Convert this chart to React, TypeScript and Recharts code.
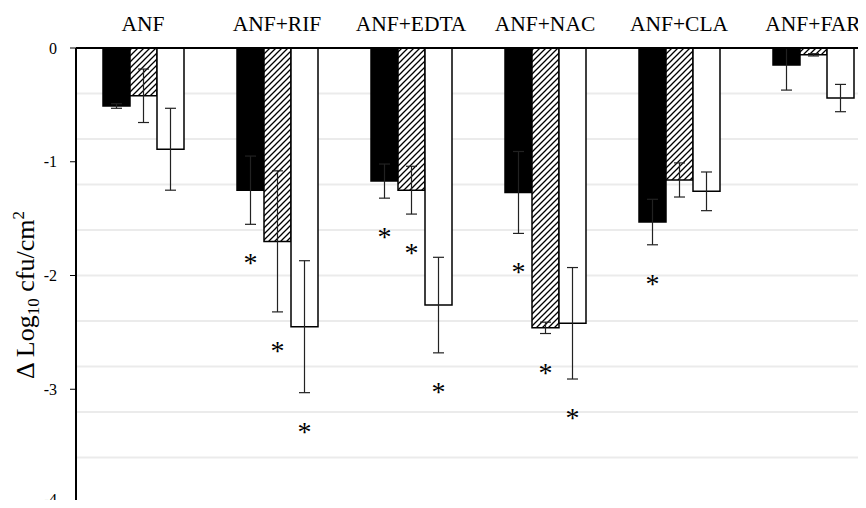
import React from 'react';
import { BarChart, Bar, XAxis, YAxis, CartesianGrid, ErrorBar, LabelList } from 'recharts';

const categories = ['ANF', 'ANF+RIF', 'ANF+EDTA', 'ANF+NAC', 'ANF+CLA', 'ANF+FAR'];
const solidValues = [-0.51, -1.25, -1.17, -1.27, -1.53, -0.15];
const solidErrors = [0.02, 0.3, 0.15, 0.36, 0.2, 0.22];
const hatchValues = [-0.42, -1.7, -1.25, -2.46, -1.16, -0.06];
const hatchErrors = [0.235, 0.62, 0.21, 0.05, 0.15, 0.01];
const openValues = [-0.89, -2.45, -2.26, -2.42, -1.26, -0.44];
const openErrors = [0.36, 0.58, 0.42, 0.49, 0.17, 0.12];
const solidSig = [false, true, true, true, true, false];
const hatchSig = [false, true, true, true, false, false];
const openSig = [false, true, true, true, false, false];
const yTicks = [0, -1, -2, -3, -4];
const gridValues = [-0.2, -0.4, -0.6, -0.8, -1, -1.2, -1.4, -1.6, -1.8, -2, -2.2, -2.4, -2.6, -2.8, -3, -3.2, -3.4, -3.6, -3.8, -4];

// error bars are clipped at the top of the plot (value 0), like the original
const clipErr = (v: number, e: number) => [e, Math.min(e, Math.abs(v))];

const data = categories.map((c, i) => ({
  name: c,
  solid: solidValues[i],
  solidErr: clipErr(solidValues[i], solidErrors[i]),
  hatch: hatchValues[i],
  hatchErr: clipErr(hatchValues[i], hatchErrors[i]),
  open: openValues[i],
  openErr: clipErr(openValues[i], openErrors[i]),
}));

const FONT = '"Liberation Serif", "Times New Roman", serif';

const makeStar = (values: number[], errors: number[], sig: boolean[]) => (props: any) => {
  const { index, x, y, width, height } = props;
  if (index == null || !sig[index]) return null;
  const v = values[index];
  const h = Math.abs(Number(height));
  const bottom = Math.max(Number(y), Number(y) + Number(height));
  const scale = h / Math.abs(v);
  const errEnd = bottom + errors[index] * scale;
  return (
    <text
      x={Number(x) + Number(width) / 2}
      y={errEnd + 48}
      textAnchor="middle"
      fontFamily={FONT}
      fontSize={28}
      fill="#000"
    >
      *
    </text>
  );
};

const YLabel = () => (
  <text
    x={34}
    y={295}
    transform="rotate(-90, 34, 295)"
    textAnchor="middle"
    fontFamily={FONT}
    fontSize={26}
    fill="#000"
  >
    <tspan>{'Δ  Log'}</tspan>
    <tspan fontSize={17} dy={5}>10</tspan>
    <tspan dy={-5}>{' cfu/cm'}</tspan>
    <tspan fontSize={17} dy={-10}>2</tspan>
  </text>
);

export default function App() {
  return (
    <div style={{ margin: -8, width: 866, height: 508, overflow: 'hidden', background: '#fff' }}>
      <BarChart
        width={900}
        height={508}
        data={data}
        margin={{ top: 0, right: 20, left: 0, bottom: 5 }}
        barGap={0}
        barSize={27}
      >
        <defs>
          <pattern id="hatch" patternUnits="userSpaceOnUse" width="6" height="6">
            <rect width="6" height="6" fill="#fff" />
            <path d="M-1,1 l2,-2 M0,6 l6,-6 M5,7 l2,-2" stroke="#000" strokeWidth={1.3} />
          </pattern>
        </defs>
        <CartesianGrid
          vertical={false}
          horizontalValues={gridValues}
          stroke="#ebebeb"
          strokeWidth={2}
        />
        <XAxis
          dataKey="name"
          orientation="top"
          height={48}
          tickLine={false}
          tickSize={0}
          tickMargin={17}
          axisLine={{ stroke: '#000', strokeWidth: 2 }}
          tick={{ fontFamily: FONT, fontSize: 21.5, fill: '#000' }}
          interval={0}
        />
        <YAxis
          width={76}
          domain={[-4, 0]}
          allowDataOverflow={true}
          ticks={yTicks}
          tickSize={6}
          tickMargin={13}
          tickLine={{ stroke: '#000', strokeWidth: 1 }}
          axisLine={{ stroke: '#000', strokeWidth: 2 }}
          tick={{ fontFamily: FONT, fontSize: 16, fill: '#000' }}
          label={<YLabel />}
        />
        <Bar dataKey="solid" fill="#000" stroke="#000" strokeWidth={1.5} isAnimationActive={false}>
          <ErrorBar dataKey="solidErr" width={5.5} stroke="#222" strokeWidth={1.2} />
          <LabelList dataKey="solid" content={makeStar(solidValues, solidErrors, solidSig)} />
        </Bar>
        <Bar dataKey="hatch" fill="url(#hatch)" stroke="#000" strokeWidth={1.5} isAnimationActive={false}>
          <ErrorBar dataKey="hatchErr" width={5.5} stroke="#222" strokeWidth={1.2} />
          <LabelList dataKey="hatch" content={makeStar(hatchValues, hatchErrors, hatchSig)} />
        </Bar>
        <Bar dataKey="open" fill="#fff" stroke="#000" strokeWidth={1.5} isAnimationActive={false}>
          <ErrorBar dataKey="openErr" width={5.5} stroke="#222" strokeWidth={1.2} />
          <LabelList dataKey="open" content={makeStar(openValues, openErrors, openSig)} />
        </Bar>
      </BarChart>
    </div>
  );
}
